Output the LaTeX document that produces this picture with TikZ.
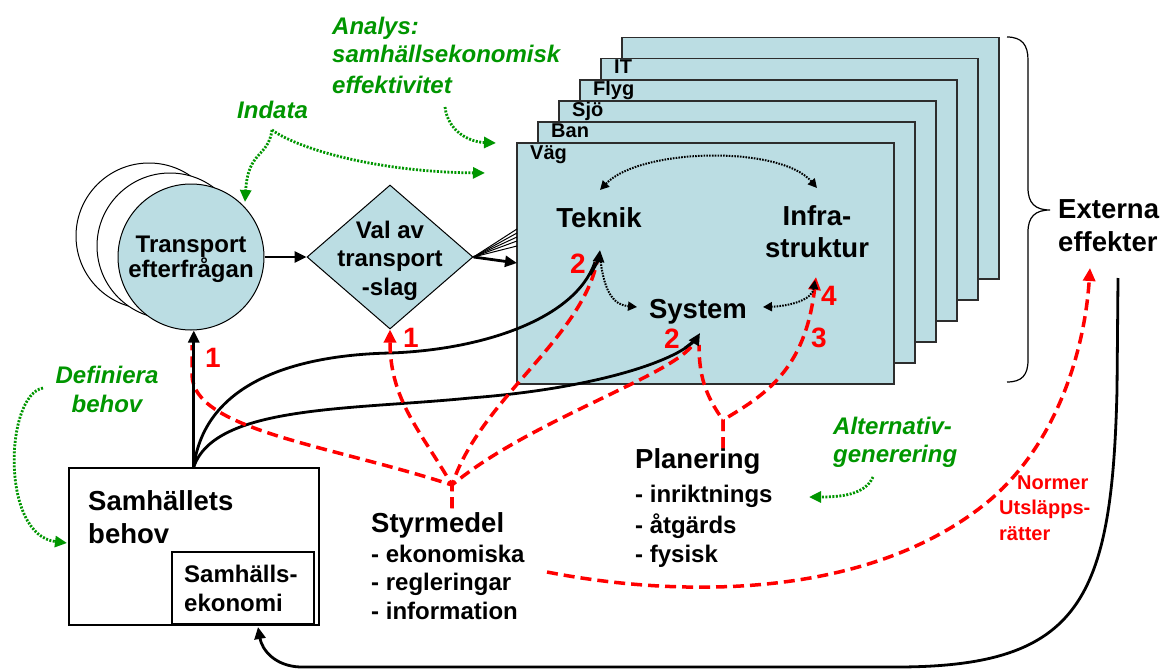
\documentclass[tikz,border=0pt]{standalone}
\usepackage{fontspec}
\setmainfont{Liberation Sans}
\usetikzlibrary{arrows.meta,shapes.geometric}
\definecolor{lb}{RGB}{187,221,227}
\definecolor{gr}{RGB}{0,150,0}
\definecolor{rd}{RGB}{255,0,0}
\definecolor{bd}{RGB}{45,45,45}
\newcommand{\fsz}[1]{\fontsize{#1}{#1}\selectfont}
\begin{document}
\begin{tikzpicture}[x=1pt,y=-1pt,
 t24/.style={inner sep=0pt,font=\bfseries\fsz{24}},
 t27/.style={inner sep=0pt,font=\bfseries\fsz{27.5}},
 t20/.style={inner sep=0pt,font=\bfseries\fsz{20}},
 gt/.style={inner sep=0pt,font=\bfseries\itshape\fsz{24},text=gr},
 num/.style={inner sep=0pt,font=\bfseries\fsz{28},text=rd},
 nt/.style={inner sep=0pt,font=\bfseries\fsz{20},text=rd},
 layer/.style={draw=bd,line width=1.5pt,fill=lb,anchor=north west,minimum width=377pt,minimum height=241pt,inner sep=0pt},
 thk/.style={line width=2.8pt,-{Triangle[length=12pt,width=11pt]}},
 thin/.style={line width=1pt},
 rdash/.style={color=rd,line width=3.5pt,dash pattern=on 11pt off 6pt},
 rarr/.style={rdash,-{Triangle[length=13pt,width=12pt]}},
 bdot/.style={line width=2pt,dash pattern=on 1.6pt off 1.2pt,{Triangle[length=9pt,width=9pt]}-{Triangle[length=9pt,width=9pt]}},
 bdot1/.style={line width=2pt,dash pattern=on 1.6pt off 1.2pt,-{Triangle[length=9pt,width=9pt]}},
 gdot/.style={color=gr,line width=2.8pt,dash pattern=on 2pt off 1.5pt,-{Triangle[length=12pt,width=11pt]}},
]
\useasboundingbox (0,0) rectangle (1161,669);
\fill[white] (0,0) rectangle (1161,669);

% circles
\node[circle,draw,line width=1pt,fill=white,minimum size=146pt,inner sep=0pt] (c3) at (149,236) {};
\node[circle,draw,line width=1pt,fill=white,minimum size=146pt,inner sep=0pt] (c2) at (170,246) {};
\node[circle,draw,line width=1pt,fill=lb,minimum size=146pt,inner sep=0pt] (tr) at (191,257) {};
\node[t24,anchor=base] (tr1) at (191,252) {Transport};
\node[t24,anchor=base] (tr2) at (191,277) {efterfrågan};

% diamond
\node[diamond,draw,line width=1pt,fill=lb,minimum width=166pt,minimum height=144pt,inner sep=0pt] (va) at (390,257) {};
\node[t24,anchor=base] (va1) at (390,238) {Val av};
\node[t24,anchor=base] (va2) at (390,266) {transport};
\node[t24,anchor=base] (va3) at (390,295) {-slag};

% stacked layers
\node[layer] (L5) at (621,37) {};
\node[layer] (L4) at (600,58) {};
\node[layer] (L3) at (579,79) {};
\node[layer] (L2) at (558,100) {};
\node[layer] (L1) at (537,121) {};
\node[layer] (L0) at (516,142) {};
\node[t20,anchor=base west] (it) at (614,74) {IT};
\node[t20,anchor=base west] (fl) at (593,95) {Flyg};
\node[t20,anchor=base west] (sj) at (572,116) {Sjö};
\node[t20,anchor=base west] (ba) at (551,137) {Ban};
\node[t20,anchor=base west] (vg) at (530,159) {Väg};

\node[t27,anchor=base] (tek) at (599,227) {Teknik};
\node[t27,anchor=base] (inf1) at (817,225) {Infra-};
\node[t27,anchor=base] (inf2) at (817,257) {struktur};
\node[t27,anchor=base] (sys) at (698,318) {System};

% brace
\draw[line width=1.2pt] (1007,37) .. controls (1022,37) and (1028,45) .. (1028,60) -- (1028,188)
  .. controls (1028,203) and (1035,210) .. (1050,210) .. controls (1035,210) and (1028,217) .. (1028,232)
  -- (1028,360) .. controls (1028,375) and (1022,382) .. (1007,382);
\node[t27,anchor=base west] (ex1) at (1058,218) {Externa};
\node[t27,anchor=base west] (ex2) at (1058,251) {effekter};

% Samhällets behov
\node[draw,line width=1.5pt,fill=white,anchor=north west,minimum width=250pt,minimum height=157pt,inner sep=0pt] (sb) at (68,467) {};
\node[draw,line width=1.5pt,fill=white,anchor=north west,minimum width=142pt,minimum height=72pt,inner sep=0pt] (sek) at (171,551) {};
\node[t27,anchor=base west] (sb1) at (88,510) {Samhällets};
\node[t27,anchor=base west] (sb2) at (88,543) {behov};
\node[t24,anchor=base west] (sk1) at (184,582) {Samhälls-};
\node[t24,anchor=base west] (sk2) at (184,611) {ekonomi};

% Styrmedel
\node[t27,anchor=base west] (st0) at (371,532) {Styrmedel};
\node[t24,anchor=base west] (st1) at (371,562) {- ekonomiska};
\node[t24,anchor=base west] (st2) at (371,590) {- regleringar};
\node[t24,anchor=base west] (st3) at (371,619) {- information};

% Planering
\node[t27,anchor=base west] (pl0) at (635,468) {Planering};
\node[t24,anchor=base west] (pl1) at (635,502) {- inriktnings};
\node[t24,anchor=base west] (pl2) at (635,533) {- åtgärds};
\node[t24,anchor=base west] (pl3) at (635,562) {- fysisk};

% green labels
\node[gt,anchor=base west] (an1) at (332,35) {Analys:};
\node[gt,anchor=base west] (an2) at (332,63) {samhällsekonomisk};
\node[gt,anchor=base west] (an3) at (332,93) {effektivitet};
\node[gt,anchor=base west] (ind) at (237,118) {Indata};
\node[gt,anchor=base] (de1) at (107,383) {Definiera};
\node[gt,anchor=base] (de2) at (107,412) {behov};
\node[gt,anchor=base west] (al1) at (833,434) {Alternativ-};
\node[gt,anchor=base west] (al2) at (833,462) {generering};

% red labels
\node[nt,anchor=base west] (no1) at (1017,489) {Normer};
\node[nt,anchor=base west] (no2) at (999,514) {Utsläpps-};
\node[nt,anchor=base west] (no3) at (999,540) {rätter};
\node[num,anchor=base] (n1) at (213,367) {1};
\node[num,anchor=base] (n2) at (411,347) {1};
\node[num,anchor=base] (n3) at (578,273) {2};
\node[num,anchor=base] (n4) at (672,348) {2};
\node[num,anchor=base] (n5) at (829,305) {4};
\node[num,anchor=base] (n6) at (819,347) {3};

% coordinates
\coordinate (tekin) at (600,250);
\coordinate (sysin) at (700,333);
\coordinate (infin) at (816,277);
\coordinate (st) at (452,508);
\coordinate (sth) at (452,485);
\coordinate (pl) at (723,448);
\coordinate (plh) at (723,420);
\coordinate (sty) at (547,572);
\coordinate (exin) at (1090,268);
\coordinate (exout) at (1118,278);
\coordinate (skin) at (258,627);

% black connectors: circle -> diamond -> box
\draw[thk] (tr.east) -- (va.west);
\foreach \yy in {229,233,237,241,246} \draw[thin] (va.east) -- (517,\yy);
\draw[thk] (va.east) -- (517,263);

% black curves from Samhällets behov
\draw[line width=2.8pt] (sb.north) .. controls (205,380) and (300,355) .. (390,353) .. controls (480,350) and (575,320) .. (595,262);
\draw[line width=2.8pt] (sb.north) .. controls (215,405) and (350,410) .. (470,398) .. controls (600,388) and (675,360) .. (693,342);

% red dashed from Styrmedel
\draw[rdash] (st) -- (sth) .. controls (330,445) and (193,430) .. (192,375) -- (192,345);
\draw[rarr] (st) -- (sth) .. controls (420,430) and (390,400) .. (va.south);
\draw[rdash] (st) -- (sth) .. controls (480,400) and (580,340) .. (597,262);
\draw[rdash] (st) -- (sth) .. controls (530,420) and (675,375) .. (694,343);
% red dashed from Planering
\draw[rdash] (pl) -- (plh) .. controls (705,395) and (699,375) .. (699,345);
\draw[rarr] (pl) -- (plh) .. controls (765,395) and (805,370) .. (infin);
% red to Externa
\draw[rarr] (sty) .. controls (680,598) and (870,600) .. (990,500) .. controls (1060,440) and (1085,345) .. (exin);

% black arrowheads over
\draw[thk] (sb.north) -- (sb.north |- tr.south);
\draw[thk] (590,275) .. controls (596,265) and (599,258) .. (tekin);
\draw[thk] (685,348) .. controls (692,343) and (697,338) .. (sysin);

% return curve
\draw[line width=2.8pt,-{Triangle[length=12pt,width=11pt]}] (exout) -- (1117,390) .. controls (1112,600) and (1080,666) .. (900,667) -- (300,667) .. controls (275,666) and (262,650) .. (skin);

% dotted black
\draw[bdot] (600,190) .. controls (640,148) and (780,145) .. (817,188);
\draw[bdot1] (600,256) .. controls (604,295) and (615,305) .. (637,307);
\draw[bdot] (815,280) .. controls (812,300) and (790,306) .. (763,307);

% green dotted
\draw[gdot] (272,130) .. controls (268,158) and (248,150) .. (245,202);
\draw[gdot] (272,130) .. controls (300,150) and (380,172) .. (485,173);
\draw[gdot] (445,107) .. controls (448,132) and (470,142) .. (496,143);
\draw[gdot] (43,388) .. controls (5,395) and (0,535) .. (67,543);
\draw[gdot] (873,477) .. controls (865,495) and (840,497) .. (809,497);
\end{tikzpicture}
\end{document}
